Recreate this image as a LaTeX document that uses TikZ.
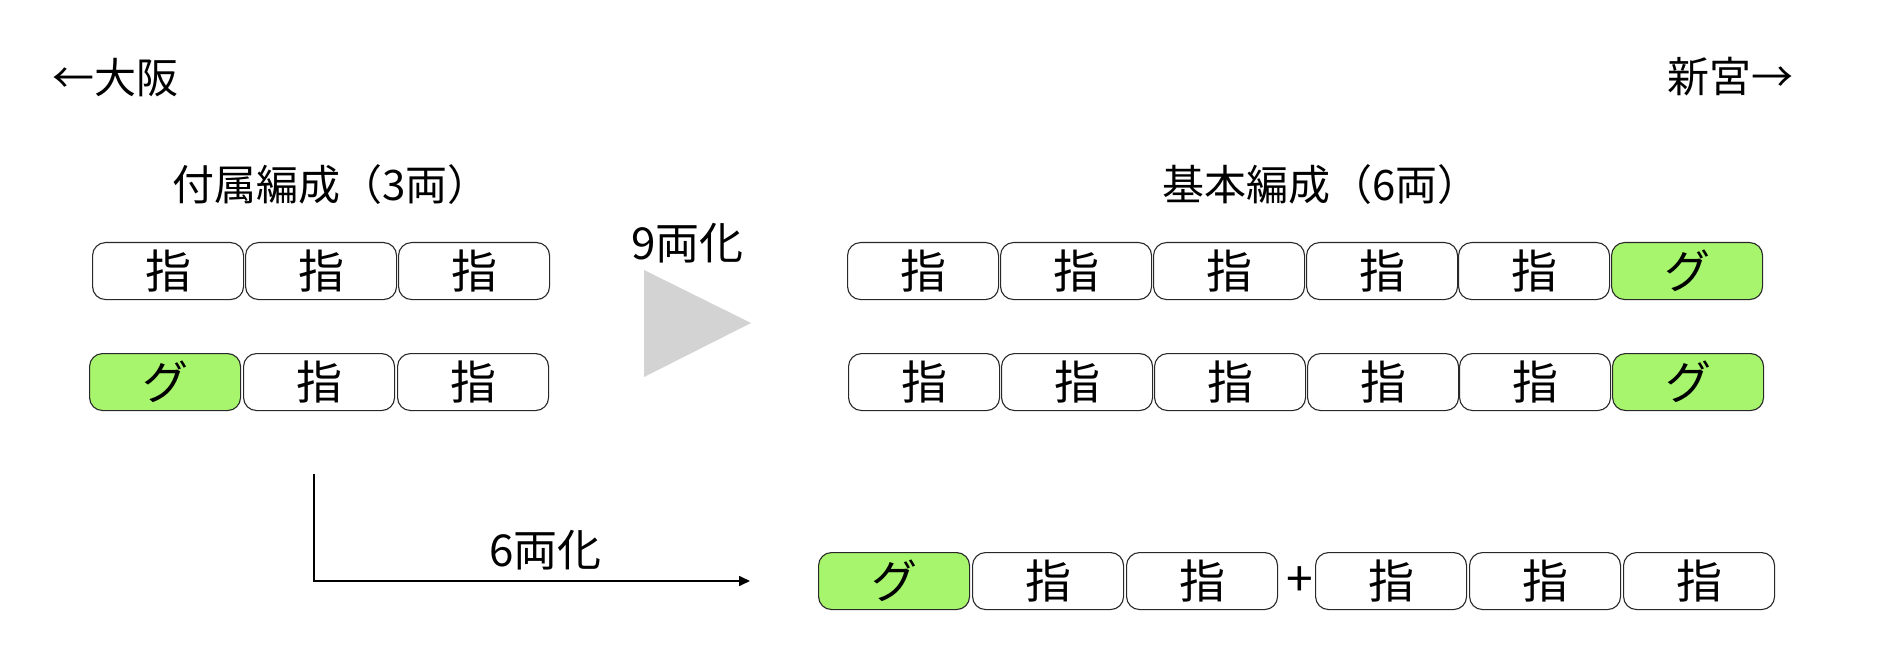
\documentclass[tikz,border=0pt]{standalone}
\usepackage{fontspec}
\setmainfont{Noto Sans CJK JP}
\usetikzlibrary{arrows.meta}
\definecolor{gfill}{RGB}{167,245,108}
\definecolor{tri}{RGB}{211,211,211}
\definecolor{edge}{RGB}{40,40,40}
\tikzset{
  car/.style={draw=edge, line width=1.1pt, rounded corners=13pt, fill=white,
    minimum width=151pt, minimum height=57pt, inner sep=0pt, anchor=north west,
    font=\fontsize{46}{46}\selectfont},
  gcar/.style={car, fill=gfill},
  lbl/.style={inner sep=0pt, font=\fontsize{42}{42}\selectfont},
}
\begin{document}
\begin{tikzpicture}[x=1pt,y=-1pt]
\useasboundingbox (0,0) rectangle (1884,652);
\fill[white] (0,0) rectangle (1884,652);
% direction labels
\node[lbl, anchor=west] (osaka) at (52,78) {←大阪};
\node[lbl, anchor=east] (shingu) at (1794,77) {新宮→};
% titles
\node[lbl, anchor=west] (fuzoku) at (172,185) {付属編成（3両）};
\node[lbl, anchor=west] (kihon) at (1162,185) {基本編成（6両）};
% left, row 1
\node[car] (a1) at (92,242) {指};
\node[car] (a2) at (245,242) {指};
\node[car] (a3) at (398,242) {指};
% left, row 2
\node[gcar] (b1) at (89,353) {グ};
\node[car] (b2) at (243,353) {指};
\node[car] (b3) at (397,353) {指};
% 9-car label and triangle
\node[lbl, anchor=west, font=\fontsize{44}{44}\selectfont] (nine) at (631,243) {9両化};
\fill[tri] (644,270) -- (751,323) -- (644,377) -- cycle;
% right, row 1
\node[car] (r1) at (847,242) {指};
\node[car] (r2) at (1000,242) {指};
\node[car] (r3) at (1153,242) {指};
\node[car] (r4) at (1306,242) {指};
\node[car] (r5) at (1458,242) {指};
\node[gcar] (r6) at (1611,242) {グ};
% right, row 2
\node[car] (s1) at (848,353) {指};
\node[car] (s2) at (1001,353) {指};
\node[car] (s3) at (1154,353) {指};
\node[car] (s4) at (1307,353) {指};
\node[car] (s5) at (1459,353) {指};
\node[gcar] (s6) at (1612,353) {グ};
% 6-car arrow
\coordinate (c1) at (314,474);
\coordinate (c2) at (314,581);
\coordinate (c3) at (750,581);
\draw[line width=1.6pt, -{Triangle[length=11pt,width=10pt]}] (c1) -- (c2) -- (c3);
\node[lbl, anchor=west, font=\fontsize{44}{44}\selectfont] (six) at (489,550) {6両化};
% bottom row
\node[gcar] (t1) at (818,552) {グ};
\node[car] (t2) at (972,552) {指};
\node[car] (t3) at (1126,552) {指};
\node[lbl, font=\fontsize{48}{48}\selectfont] (plus) at (1300,582) {+};
\node[car] (t4) at (1315,552) {指};
\node[car] (t5) at (1469,552) {指};
\node[car] (t6) at (1623,552) {指};
\end{tikzpicture}
\end{document}
